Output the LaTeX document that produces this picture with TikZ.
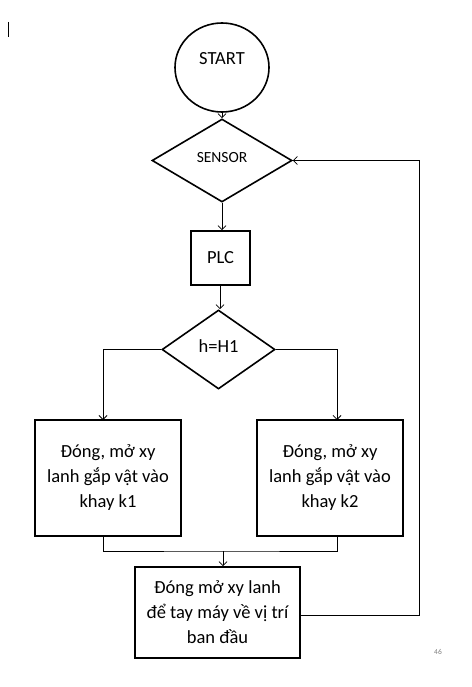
\documentclass[tikz,border=0pt]{standalone}
\usepackage{fontspec}
\setmainfont{Carlito}
\usetikzlibrary{shapes.geometric,arrows.meta}
\begin{document}
\begin{tikzpicture}[x=1pt,y=-1pt,
  shapebox/.style={draw,line width=1.6pt,inner sep=0pt,font=\fontsize{18.5}{25}\selectfont,align=center},
  procbox/.style={shapebox,rectangle},
  decbox/.style={shapebox,diamond},
  conn/.style={line width=0.8pt},
  arr/.style={conn,-{Straight Barb[length=4pt,width=8pt]}},
  txt/.style={inner sep=0pt,font=\fontsize{18.5}{25}\selectfont,align=center}]
\useasboundingbox (0,0) rectangle (471,687);
\fill[white] (0,0) rectangle (471,687);
% cursor mark
\coordinate (c1) at (8.5,22);
\coordinate (c2) at (8.5,37);
\draw[line width=0.8pt] (c1) -- (c2);
% nodes
\node[shapebox,ellipse,minimum width=94pt,minimum height=89pt] (start) at (222,67.5) {};
\node[txt] (starttxt) at (222,59) {START};
\node[decbox,minimum width=140pt,minimum height=83pt,font=\fontsize{15.5}{19}\selectfont] (sensor) at (222,160.5) {};
\node[txt,font=\fontsize{15.5}{19}\selectfont] (sensortxt) at (222,158) {SENSOR};
\node[procbox,minimum width=59pt,minimum height=54pt] (plc) at (220.5,258) {PLC};
\node[decbox,minimum width=113pt,minimum height=79pt] (dec) at (218.5,349.5) {};
\node[txt] (dectxt) at (218.5,346) {h=H1};
\node[procbox,minimum width=146pt,minimum height=116pt] (left) at (108,478) {Đóng, mở xy\\lanh gắp vật vào\\khay k1};
\node[procbox,minimum width=146pt,minimum height=116pt] (right) at (330,478) {Đóng, mở xy\\lanh gắp vật vào\\khay k2};
\node[procbox,minimum width=165pt,minimum height=91pt] (bot) at (217.5,612.5) {Đóng mở xy lanh\\để tay máy về vị trí\\ban đầu};
\node[inner sep=0pt,text=gray,font=\fontsize{7.5}{9}\selectfont] (page) at (438,652) {46};
% connectors
\draw[arr] (start.south) -- (sensor.north);
\draw[arr] (sensor.south) -- (sensor.south |- plc.north);
\draw[arr] ([xshift=-0.5pt]plc.south) -- ([xshift=-0.5pt]plc.south |- dec.north);
\coordinate (la) at (103,420);
\coordinate (ra) at (337,420);
\draw[arr] (dec.west) -| (la);
\draw[arr] (dec.east) -| (ra);
\coordinate (lb) at (103,536);
\coordinate (rb) at (337,536);
\coordinate (mj) at (223,551);
\draw[conn] (lb) |- (mj) -| (rb);
\draw[arr] (mj) -- (mj |- bot.north);
\coordinate (fb) at (419,615);
\draw[arr] (bot.east |- fb) -- (fb) |- (sensor.east);
\end{tikzpicture}
\end{document}
